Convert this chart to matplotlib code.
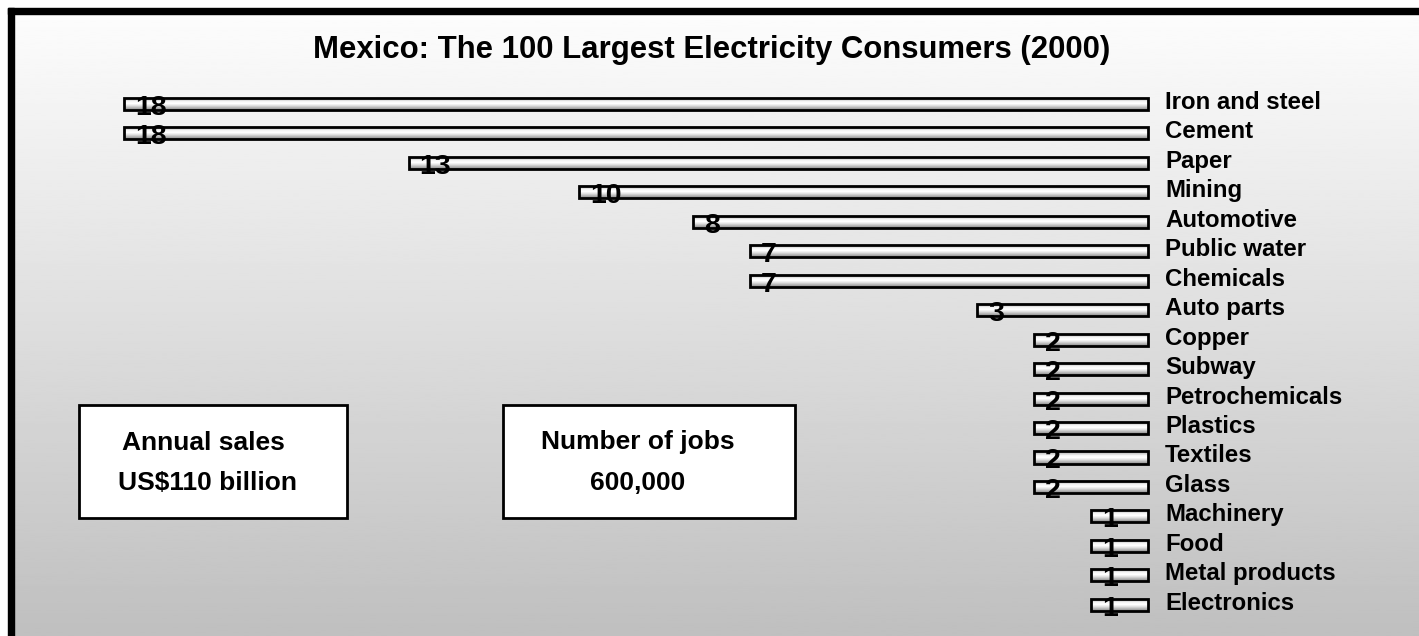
import numpy as np
import matplotlib
matplotlib.use("Agg")
import matplotlib.pyplot as plt
from matplotlib.patches import Rectangle

plt.rcParams['font.family'] = ['Liberation Sans', 'DejaVu Sans']

# data
sectors = ['Iron and steel', 'Cement', 'Paper', 'Mining', 'Automotive',
           'Public water', 'Chemicals', 'Auto parts', 'Copper', 'Subway',
           'Petrochemicals', 'Plastics', 'Textiles', 'Glass', 'Machinery',
           'Food', 'Metal products', 'Electronics']
counts = [18, 18, 13, 10, 8, 7, 7, 3, 2, 2, 2, 2, 2, 2, 1, 1, 1, 1]
title = 'Mexico: The 100 Largest Electricity Consumers (2000)'
box_sales = ['Annual sales', 'US$110 billion']
box_jobs = ['Number of jobs', '600,000']

W, H = 1419, 636
fig = plt.figure(figsize=(W / 100, H / 100), dpi=100)

# background layer in pixel units
bg = fig.add_axes([0, 0, 1, 1])
bg.set_xlim(0, W)
bg.set_ylim(H, 0)
bg.axis('off')
grad = np.linspace(0.99, 0.75, 256).reshape(-1, 1)
bg.imshow(grad, cmap='gray', vmin=0, vmax=1, aspect='auto',
          extent=(14, W, H, 14), origin='upper', zorder=0)
bg.add_patch(Rectangle((8, 8), W - 8, 6, color='black', zorder=1))
bg.add_patch(Rectangle((8, 8), 6, H - 8, color='black', zorder=1))

bg.text(711.5, 58, title, ha='center', va='baseline', fontsize=22.4,
        fontweight='bold')

# info boxes
bg.add_patch(Rectangle((79, 405), 268, 113, facecolor='white',
                       edgecolor='black', lw=2, zorder=2))
bg.add_patch(Rectangle((503, 405), 292, 113, facecolor='white',
                       edgecolor='black', lw=2, zorder=2))
bg.text(203.5, 449.5, box_sales[0], ha='center', va='baseline', fontsize=19,
        fontweight='bold', zorder=3)
bg.text(207.7, 489.5, box_sales[1], ha='center', va='baseline', fontsize=19,
        fontweight='bold', zorder=3)
bg.text(637.5, 449.5, box_jobs[0], ha='center', va='baseline', fontsize=19,
        fontweight='bold', zorder=3)
bg.text(637.5, 489.5, box_jobs[1], ha='center', va='baseline', fontsize=19,
        fontweight='bold', zorder=3)

# bars
ax = fig.add_axes([0, 0, 1, 1])
ax.patch.set_alpha(0)
ax.axis('off')

ypos = np.arange(len(counts))
bar_h = 0.41
bars = ax.barh(ypos, counts, height=bar_h, facecolor='none',
               edgecolor='black', linewidth=2, zorder=3)

stripe = np.array([0.72, 0.82, 0.97, 1.0, 0.9, 0.75, 0.6]).reshape(-1, 1)
for b, y, v in zip(bars, ypos, counts):
    im = ax.imshow(stripe, cmap='gray', vmin=0, vmax=1, aspect='auto',
                   extent=(0, v, y + bar_h / 2, y - bar_h / 2),
                   origin='upper', zorder=2, interpolation='bilinear')
    im.set_clip_path(b)

for y, v, name in zip(ypos, counts, sectors):
    ax.annotate(str(v), xy=(v, y), xytext=(11, -11), textcoords='offset pixels',
                ha='left', va='baseline', fontsize=20.5, fontweight='bold',
                zorder=4)
    ax.annotate(name, xy=(0, y), xytext=(17, -5), textcoords='offset pixels',
                ha='left', va='baseline', fontsize=17.3, fontweight='bold',
                zorder=4)

ax.set_xlim(20.18, -4.76)
ax.set_ylim(18.06, -3.53)

fig.savefig('out.png', dpi=100)
